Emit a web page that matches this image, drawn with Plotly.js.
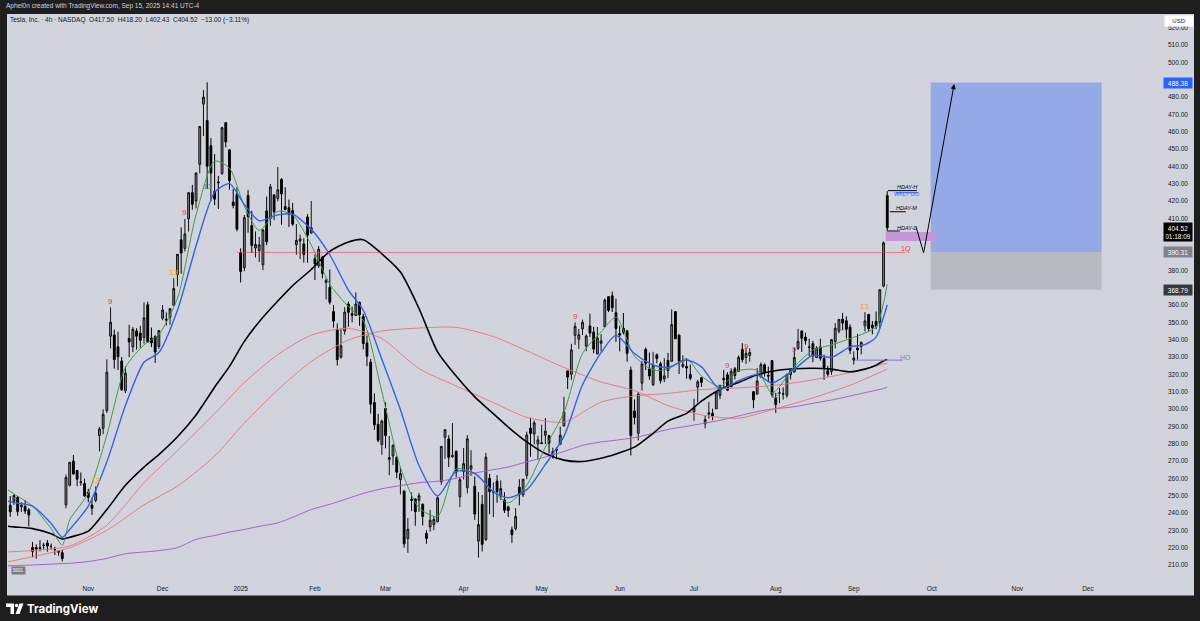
<!DOCTYPE html>
<html><head><meta charset="utf-8">
<script src="https://cdn.plot.ly/plotly-3.0.1.min.js"></script>
<style>html,body{margin:0;padding:0;background:#1e1e1e;}#chart{width:1200px;height:621px;}</style>
</head><body><div id="chart"></div>
<script>
// ---------------- DATA ----------------
const dates = ['2024-10-02','2024-10-03','2024-10-04','2024-10-07','2024-10-08','2024-10-09','2024-10-10','2024-10-11','2024-10-14','2024-10-15','2024-10-16','2024-10-17','2024-10-18','2024-10-21','2024-10-22','2024-10-23','2024-10-24','2024-10-25','2024-10-28','2024-10-29','2024-10-30','2024-10-31',
'2024-11-01','2024-11-04','2024-11-05','2024-11-06','2024-11-07','2024-11-08','2024-11-11','2024-11-12','2024-11-13','2024-11-14','2024-11-15','2024-11-18','2024-11-19','2024-11-20','2024-11-21','2024-11-22','2024-11-25','2024-11-26','2024-11-27','2024-11-29',
'2024-12-02','2024-12-03','2024-12-04','2024-12-05','2024-12-06','2024-12-09','2024-12-10','2024-12-11','2024-12-12','2024-12-13','2024-12-16','2024-12-17','2024-12-18','2024-12-19','2024-12-20','2024-12-23','2024-12-24','2024-12-26','2024-12-27','2024-12-30','2024-12-31',
'2025-01-02','2025-01-03','2025-01-06','2025-01-07','2025-01-08','2025-01-10','2025-01-13','2025-01-14','2025-01-15','2025-01-16','2025-01-17','2025-01-21','2025-01-22','2025-01-23','2025-01-24','2025-01-27','2025-01-28','2025-01-29','2025-01-30','2025-01-31',
'2025-02-03','2025-02-04','2025-02-05','2025-02-06','2025-02-07','2025-02-10','2025-02-11','2025-02-12','2025-02-13','2025-02-14','2025-02-18','2025-02-19','2025-02-20','2025-02-21','2025-02-24','2025-02-25','2025-02-26','2025-02-27','2025-02-28',
'2025-03-03','2025-03-04','2025-03-05','2025-03-06','2025-03-07','2025-03-10','2025-03-11','2025-03-12','2025-03-13','2025-03-14','2025-03-17','2025-03-18','2025-03-19','2025-03-20','2025-03-21','2025-03-24','2025-03-25','2025-03-26','2025-03-27','2025-03-28','2025-03-31',
'2025-04-01','2025-04-02','2025-04-03','2025-04-04','2025-04-07','2025-04-08','2025-04-09','2025-04-10','2025-04-11','2025-04-14','2025-04-15','2025-04-16','2025-04-17','2025-04-21','2025-04-22','2025-04-23','2025-04-24','2025-04-25','2025-04-28','2025-04-29','2025-04-30',
'2025-05-01','2025-05-02','2025-05-05','2025-05-06','2025-05-07','2025-05-08','2025-05-09','2025-05-12','2025-05-13','2025-05-14','2025-05-15','2025-05-16','2025-05-19','2025-05-20','2025-05-21','2025-05-22','2025-05-23','2025-05-27','2025-05-28','2025-05-29','2025-05-30',
'2025-06-02','2025-06-03','2025-06-04','2025-06-05','2025-06-06','2025-06-09','2025-06-10','2025-06-11','2025-06-12','2025-06-13','2025-06-16','2025-06-17','2025-06-18','2025-06-20','2025-06-23','2025-06-24','2025-06-25','2025-06-26','2025-06-27','2025-06-30',
'2025-07-01','2025-07-02','2025-07-03','2025-07-07','2025-07-08','2025-07-09','2025-07-10','2025-07-11','2025-07-14','2025-07-15','2025-07-16','2025-07-17','2025-07-18','2025-07-21','2025-07-22','2025-07-23','2025-07-24','2025-07-25','2025-07-28','2025-07-29','2025-07-30','2025-07-31',
'2025-08-01','2025-08-04','2025-08-05','2025-08-06','2025-08-07','2025-08-08','2025-08-11','2025-08-12','2025-08-13','2025-08-14','2025-08-15','2025-08-18','2025-08-19','2025-08-20','2025-08-21','2025-08-22','2025-08-25','2025-08-26','2025-08-27','2025-08-28','2025-08-29',
'2025-09-02','2025-09-03','2025-09-04','2025-09-05','2025-09-08','2025-09-09','2025-09-10','2025-09-11','2025-09-12','2025-09-15'];

const opens = [247.6,244.5,246.7,249.0,243.6,243.8,241.8,220.1,220.1,220.0,221.4,222.7,220.7,218.9,217.3,217.1,244.7,256.0,270.0,264.5,258.0,257.0,
252.0,244.6,247.3,284.7,288.9,299.1,342.0,342.7,335.9,327.7,310.6,340.7,335.8,345.0,343.8,341.1,360.1,341.0,341.8,336.1,
352.4,351.8,353.0,359.9,377.4,397.6,392.7,409.7,424.8,420.0,441.1,475.9,466.5,451.9,425.5,431.0,435.9,465.2,449.5,419.4,423.8,
390.1,381.5,423.2,405.8,392.9,391.4,383.2,414.3,409.9,423.5,421.5,432.6,416.8,416.1,414.5,394.8,396.9,395.2,410.8,401.5,
386.7,382.6,387.5,373.0,370.2,356.2,345.8,329.9,345.0,360.6,355.0,354.0,361.5,353.4,338.1,327.0,303.7,291.2,279.5,
300.3,270.9,272.9,272.1,259.3,252.5,225.3,247.2,248.1,247.3,245.1,228.2,232.0,233.3,235.0,258.1,283.6,282.7,272.5,275.6,249.3,
263.8,254.6,265.3,255.4,223.8,245.0,224.7,260.0,251.8,258.4,249.9,247.6,243.5,230.3,231.0,254.9,250.5,261.7,289.0,285.5,279.9,
280.0,284.9,284.6,273.1,276.9,279.6,290.2,322.0,320.0,342.5,340.3,346.2,336.3,347.9,344.4,331.9,337.9,347.4,364.8,365.3,355.5,
343.5,346.6,345.1,322.5,298.8,286.0,314.9,334.4,323.1,314.0,331.3,326.1,317.3,328.0,327.5,356.2,342.7,324.6,324.5,319.9,
298.5,312.6,318.0,291.4,297.0,297.5,300.1,307.9,317.7,319.7,312.8,323.2,321.7,334.4,329.7,330.9,310.0,308.7,318.5,325.5,319.4,327.9,
306.2,309.1,308.8,307.9,319.8,321.4,335.0,345.0,341.5,335.8,337.7,329.6,335.8,329.2,322.1,321.7,338.9,344.9,351.9,350.9,347.2,
328.2,335.2,336.1,348.0,354.6,348.4,350.6,350.2,370.9,423.1];

const highs = [251.2,249.8,250.9,249.8,246.2,247.4,242.8,223.3,221.9,224.3,222.8,224.4,222.3,220.5,218.2,218.7,262.1,269.5,273.5,264.9,263.4,259.8,
254.0,248.9,255.3,289.6,299.8,328.7,358.6,345.8,344.6,330.0,324.7,348.6,347.4,346.6,348.0,361.5,361.9,347.0,342.6,345.6,
360.0,355.7,358.1,375.4,389.5,404.8,409.7,424.9,429.3,436.3,463.2,484.0,488.5,456.4,447.1,434.5,462.8,465.3,450.0,427.0,427.9,
392.7,411.9,426.4,414.3,402.5,399.3,403.8,422.6,429.8,424.0,439.7,433.2,428.0,420.8,418.9,406.7,400.6,398.6,412.5,420.0,
389.2,394.0,388.4,375.4,380.5,360.0,349.4,346.4,358.7,362.0,359.1,367.3,362.0,355.0,342.4,328.9,309.0,297.2,293.9,
303.9,284.4,279.6,272.7,266.3,253.4,237.1,251.8,248.3,251.6,245.4,230.1,241.7,238.0,249.5,278.6,288.2,284.9,291.9,276.1,260.6,
277.5,285.0,276.3,261.0,252.0,250.4,274.7,262.5,257.7,261.8,258.8,252.0,244.3,232.2,242.8,259.5,259.5,286.9,294.9,293.3,284.5,
290.9,294.8,284.9,277.7,277.9,289.8,307.0,322.2,337.6,350.0,346.1,351.6,343.0,355.0,347.4,347.3,343.2,363.8,365.0,367.7,363.7,
348.0,355.4,345.6,324.5,305.5,309.8,327.8,335.5,332.6,333.0,332.0,327.3,329.3,332.4,357.5,356.3,343.0,331.0,329.3,325.6,
305.9,316.8,318.5,296.1,304.1,300.2,310.5,314.1,322.6,321.2,323.5,324.3,330.9,338.0,335.4,335.0,310.2,323.6,326.9,326.3,324.5,328.3,
309.3,312.1,312.5,320.5,322.3,335.2,346.2,345.3,344.0,340.5,339.3,336.3,340.5,331.4,324.9,340.3,349.5,351.9,355.4,353.5,348.8,
333.3,343.3,338.9,355.9,354.6,350.8,356.3,369.0,396.7,425.7];

const lows = [241.5,237.8,244.6,238.4,240.6,239.5,232.3,214.4,213.7,217.9,218.9,217.7,219.0,215.7,215.3,212.1,242.7,255.3,262.2,255.5,255.8,249.3,
246.2,238.9,246.2,275.6,285.5,297.7,335.0,323.3,322.5,310.4,309.2,330.0,332.8,334.3,335.3,337.7,338.2,335.7,326.6,334.7,
351.2,348.2,348.6,359.5,370.8,378.0,390.9,402.4,415.0,415.7,436.0,457.5,427.0,420.0,417.6,415.4,435.1,451.0,426.5,415.8,402.5,
373.0,379.5,401.7,390.0,387.4,384.8,380.1,394.5,405.7,409.1,419.8,406.3,414.6,405.0,405.7,389.0,386.5,384.5,384.4,401.3,
374.4,381.4,375.4,363.2,360.3,347.0,325.1,329.1,342.9,347.5,350.0,353.7,348.0,334.4,324.7,297.3,288.0,280.9,273.6,
277.3,261.8,267.7,260.0,250.7,220.0,217.0,241.1,232.6,240.7,232.8,222.3,229.2,230.1,234.6,256.3,271.3,266.5,271.8,260.6,243.4,
259.3,251.3,261.5,236.0,214.3,217.8,223.9,239.3,237.6,245.9,247.5,240.0,237.7,222.8,229.9,244.4,249.2,259.6,272.4,279.5,270.8,
279.8,279.8,274.4,271.4,271.0,279.4,290.0,311.5,316.8,337.0,334.7,342.7,333.4,341.6,332.2,331.4,333.2,347.3,355.9,356.0,338.7,
333.3,343.0,327.3,273.2,291.1,281.9,310.7,322.5,316.9,313.3,326.4,314.7,315.5,317.8,327.5,340.4,320.2,323.6,317.5,316.6,
293.2,303.8,312.8,288.8,294.4,293.5,300.0,305.7,312.7,310.5,312.6,317.1,321.4,326.9,326.0,327.3,300.4,308.0,318.0,318.7,315.3,306.8,
297.8,303.4,305.5,306.5,317.0,321.0,334.1,332.9,337.1,330.4,327.0,329.6,327.9,316.8,318.7,319.7,335.0,343.7,345.4,340.7,331.7,
325.6,328.5,331.5,344.7,344.7,343.1,346.1,346.6,370.2,402.4];

const closes = [249.0,240.7,250.1,240.8,244.5,241.1,238.8,217.8,219.2,219.6,221.3,220.9,220.7,218.9,218.0,213.7,260.5,269.2,262.5,259.5,257.6,249.9,
248.9,242.8,251.4,288.5,296.9,321.2,350.0,328.5,330.2,311.2,320.7,338.7,346.0,342.0,339.6,352.6,338.6,338.2,332.9,345.2,
357.1,351.4,357.9,369.5,389.2,390.0,401.0,424.8,418.1,436.2,463.0,479.9,440.1,436.2,421.1,430.6,462.3,454.1,431.7,417.4,403.8,
379.3,410.4,411.1,394.4,394.9,394.7,403.3,396.4,428.2,413.8,426.5,424.1,415.1,412.4,406.6,397.2,398.1,389.1,400.3,404.6,
383.7,392.2,378.2,374.3,361.6,350.7,328.5,336.5,355.9,355.8,354.1,360.6,354.4,337.8,330.5,302.8,290.8,282.0,293.0,
284.7,272.0,279.1,263.5,262.7,222.2,230.6,248.1,240.7,250.0,238.0,225.3,235.9,236.3,248.7,278.4,288.1,272.1,273.1,263.6,259.2,
268.5,282.8,267.3,239.4,233.3,221.9,272.2,252.4,252.3,252.4,254.1,241.6,241.4,227.5,238.0,250.7,259.5,285.0,285.9,292.0,282.2,
280.5,287.2,280.3,275.4,276.2,284.8,298.3,318.4,334.1,347.7,342.8,350.0,342.1,343.8,334.6,341.0,339.3,362.9,356.9,358.4,346.5,
342.7,344.3,332.1,284.7,295.1,308.6,326.1,326.4,319.1,325.3,329.1,316.4,319.1,322.2,348.7,340.5,327.6,325.8,323.6,317.7,
300.7,315.7,315.4,293.9,297.8,295.9,309.9,313.5,316.9,310.8,321.7,319.4,329.7,328.5,332.1,332.6,305.3,316.1,325.6,321.2,319.0,308.3,
302.6,309.3,308.7,319.9,322.3,329.7,339.0,340.8,339.4,335.6,330.6,335.2,329.3,323.9,320.1,340.0,346.6,351.7,349.6,346.0,333.9,
329.4,334.1,338.5,350.8,346.4,347.0,347.8,368.8,395.9,404.52];

// moving averages (weekly samples)
const maDates = ['2024-10-02','2024-10-04','2024-10-11','2024-10-18','2024-10-23','2024-10-25','2024-11-01','2024-11-08','2024-11-15','2024-11-22','2024-11-29','2024-12-06','2024-12-13','2024-12-20','2024-12-27','2025-01-03','2025-01-10','2025-01-17','2025-01-24','2025-01-31','2025-02-07','2025-02-14','2025-02-21','2025-02-28','2025-03-07','2025-03-14','2025-03-21','2025-03-28','2025-04-04','2025-04-11','2025-04-17','2025-04-25','2025-05-02','2025-05-09','2025-05-16','2025-05-23','2025-05-30','2025-06-06','2025-06-13','2025-06-20','2025-06-27','2025-07-03','2025-07-11','2025-07-18','2025-07-25','2025-07-31','2025-08-08','2025-08-15','2025-08-22','2025-08-29','2025-09-05','2025-09-10','2025-09-12','2025-09-15'];
const maBlack = [232.5,232,231,228,225,226,229.5,242,256,266.5,273.7,284,296.6,312.6,324.6,339,350.4,362.3,371.2,380.5,391,396.4,397.7,389.5,379,358,333,319,307,297.3,289.6,281,274.3,270.5,269.7,271.6,274.1,278,286,293,297.5,304.5,311.3,315.3,319.7,321.8,323.2,323.5,323,321.5,323,325.3,327.7,328.5];
const maBlue = [247,246,244,234,226,230.5,244,269.5,302,327,332.6,357,394,425,430,418,408.6,412,412.4,403.7,389,368.6,357,328.7,299.6,267.4,249.8,264,263,252.2,248.8,253.5,268,284.2,314,332.5,342.5,332,325.4,324,328.3,324.3,311.4,316.4,319.8,315,323,331,329.8,335.8,337.2,341.5,353,360];
const maGreen = [254,251,244,231,221.5,236,251.5,285,324,337,343,364,412,443,439,417,403,414,412,394.6,372,359,351,310,266.3,243,238,265.5,262.4,252.6,245.8,256,278,298,332,344.5,353,330.5,322.5,323,329,319,313,322,322.4,309.2,324.4,334,337,340.6,343.8,347.3,361,372];
const maPurple = [209.5,209.6,210,210.5,210.8,211,212,213.8,216.5,217.5,218.3,220,224.8,227,229,230.5,232.3,234.3,237.5,242,245,248.5,251.3,254,255.8,257.5,258.3,260,263,265,266.5,269.5,272.3,275.5,279,281,282,283.5,286,288.2,290,291.5,293.5,296,298.5,300,301.3,303.3,305.2,307.5,309.4,310.8,311.8,312.7];
const slowDates = ['2024-10-02','2024-10-25','2024-11-08','2024-11-22','2024-12-06','2024-12-20','2025-01-03','2025-01-17','2025-01-31','2025-02-14','2025-02-28','2025-03-14','2025-03-28','2025-04-11','2025-04-25','2025-05-09','2025-05-23','2025-06-06','2025-06-20','2025-07-03','2025-07-18','2025-08-01','2025-08-15','2025-08-29','2025-09-15'];
const maRed1 = [217.5,221,233,257.5,276,297.3,315.3,331.4,342.6,346.5,340.6,323.3,313.3,303.7,295.2,292.5,304,307.6,309,311.2,312.2,313.7,316.8,321,326.5];
const maRed2 = [211.7,220,230,244.7,255.5,272.8,291.9,311.1,327.4,339.8,345,346.7,347.1,341.8,333.6,324,315.6,310.6,302,296.6,294.7,300.2,306.4,313.7,323];

// TD sequential counts
const tdDates = ['2024-11-05','2024-11-11','2024-12-05','2024-12-10','2024-12-18','2025-05-14','2025-07-15','2025-07-22','2025-08-01','2025-08-08','2025-09-05'];
const tdPrices = [259,362.3,378.6,413.2,428.6,353.6,325,336.3,308,334.6,359.4];
const tdTexts = ['13','9','13','9','13','9','9','9','13','9','13'];
const tdKinds = ['o','r','o','r','t','r','r','r','t','r','o'];

// levels
const lvl1Q = 390.31, lvlStop = 368.79, lvlTarget = 488.38, lastPrice = 404.52;
const hdayH = 426.0, wklyOO = 424.8, hdayM = 413.8, hdayL = 402.7, hoLevel = 328.2;
const fvgTop = 402.1, fvgBottom = 397.0;

const holidays = ['2024-11-28','2024-12-25','2025-01-01','2025-01-09','2025-01-20','2025-02-17','2025-04-18','2025-05-26','2025-06-19','2025-07-04','2025-09-01','2025-11-27','2025-12-25'];
const monthTicks = ['2024-11-01','2024-12-02','2025-01-02','2025-02-03','2025-03-03','2025-04-01','2025-05-01','2025-06-02','2025-07-01','2025-08-01','2025-09-02','2025-10-01','2025-11-03','2025-12-01'];
const monthLabels = ['Nov','Dec','2025','Feb','Mar','Apr','May','Jun','Jul','Aug','Sep','Oct','Nov','Dec'];
const priceTicks = [210,220,230,240,250,260,270,280,290,300,310,320,330,340,350,360,380,410,420,430,440,450,460,470,480,500,510,520];

// ---------------- DRAWING ----------------
const FONT = 'Liberation Sans, Arial, sans-serif';
const P = {l:8, r:1160, t:14, b:578};
const px = x => (x - P.l) / (P.r - P.l);
const py = y => (P.b - y) / (P.b - P.t);
const noon = d => d + ' 12:00';

const traces = [];
const line = (xs, ys, color, width) => ({type:'scatter', mode:'lines', x:xs.map(noon), y:ys, line:{color:color, width:width, shape:'spline', smoothing:0.7}, hoverinfo:'skip'});
traces.push(line(maDates, maPurple, '#a660cc', 1));
traces.push(line(slowDates, maRed2, '#ec6f75', 0.9));
traces.push(line(slowDates, maRed1, '#ec6f75', 0.9));
traces.push(line(maDates, maBlack, '#000000', 1.6));
traces.push({type:'candlestick', x:dates.map(noon), open:opens, high:highs, low:lows, close:closes,
  increasing:{line:{color:'#111111', width:1}, fillcolor:'#7d808a'},
  decreasing:{line:{color:'#000000', width:1}, fillcolor:'#000000'},
  whiskerwidth:0, hoverinfo:'skip'});
traces.push(line(maDates, maGreen, '#3d9c48', 1));
traces.push(line(maDates, maBlue, '#2f62ea', 1.4));
// projected path
traces.push({type:'scatter', mode:'lines', x:['2025-09-25 04:48','2025-09-29 07:12'], y:[405.5, 390], line:{color:'#000', width:1}, hoverinfo:'skip'});

const shapes = [];
shapes.push({type:'rect', xref:'paper', yref:'paper', x0:px(7), x1:px(1194), y0:py(595.5), y1:py(14), fillcolor:'#d1d4dc', line:{width:0}, layer:'below'});
shapes.push({type:'rect', xref:'x', yref:'y', x0:'2025-10-01 04:48', x1:'2025-12-05 04:48', y0:lvl1Q, y1:lvlTarget, fillcolor:'#95a9e7', line:{width:0}, layer:'below'});
shapes.push({type:'rect', xref:'x', yref:'y', x0:'2025-10-01 04:48', x1:'2025-12-05 04:48', y0:lvlStop, y1:lvl1Q, fillcolor:'#b8bac2', line:{width:0}, layer:'below'});
shapes.push({type:'line', xref:'x', yref:'y', x0:'2024-12-31 12:00', x1:'2025-09-22 12:00', y0:lvl1Q, y1:lvl1Q, line:{color:'rgba(242,54,69,0.55)', width:1}});
shapes.push({type:'rect', xref:'x', yref:'y', x0:'2025-09-15 02:24', x1:'2025-10-02 14:24', y0:fvgBottom, y1:fvgTop, fillcolor:'#c696d9', line:{width:0}, layer:'below'});
shapes.push({type:'line', xref:'x', yref:'y', x0:'2025-09-03 00:00', x1:'2025-09-19 16:48', y0:hoLevel, y1:hoLevel, line:{color:'#8a72d0', width:1}});
shapes.push({type:'line', xref:'x', yref:'y', x0:'2025-09-15 16:48', x1:'2025-09-25 12:00', y0:hdayH, y1:hdayH, line:{color:'#000', width:1}});
shapes.push({type:'line', xref:'x', yref:'y', x0:'2025-09-17 19:12', x1:'2025-09-25 19:12', y0:wklyOO, y1:wklyOO, line:{color:'#2962ff', width:1}});
shapes.push({type:'line', xref:'x', yref:'y', x0:'2025-09-16 04:48', x1:'2025-09-22 12:00', y0:hdayM, y1:hdayM, line:{color:'#000', width:1}});
shapes.push({type:'line', xref:'x', yref:'y', x0:'2025-09-15 16:48', x1:'2025-09-18 21:36', y0:hdayL, y1:hdayL, line:{color:'#000', width:1}});
// TradingView logo
shapes.push({type:'path', xref:'paper', yref:'paper', path:`M ${px(6)} ${py(603.5)} L ${px(14)} ${py(603.5)} L ${px(14)} ${py(614)} L ${px(10.5)} ${py(614)} L ${px(10.5)} ${py(607)} L ${px(6)} ${py(607)} Z`, fillcolor:'#ffffff', line:{width:0}});
shapes.push({type:'circle', xref:'paper', yref:'paper', x0:px(14.8), x1:px(18.2), y0:py(607.2), y1:py(603.8), fillcolor:'#ffffff', line:{width:0}});
shapes.push({type:'path', xref:'paper', yref:'paper', path:`M ${px(15.5)} ${py(614)} L ${px(19.5)} ${py(614)} L ${px(23.5)} ${py(603.5)} L ${px(19.5)} ${py(603.5)} Z`, fillcolor:'#ffffff', line:{width:0}});

const ann = [];
const tdColor = {o:'#f5a325', r:'#f23645', t:'#3f9d8c'};
tdDates.forEach((d,i) => ann.push({x:noon(d), y:tdPrices[i], text:tdTexts[i], showarrow:false, font:{family:FONT, size:8, color:tdColor[tdKinds[i]]}}));
ann.push({xref:'paper', yref:'paper', x:px(4), y:py(6.5), xanchor:'left', yanchor:'middle', showarrow:false, text:'Aphel0n created with TradingView.com, Sep 15, 2025 14:41 UTC-4', font:{family:FONT, size:6.5, color:'#d1d4dc'}});
ann.push({xref:'paper', yref:'paper', x:px(8), y:py(20.5), xanchor:'left', yanchor:'middle', showarrow:false, text:'Tesla, Inc. · 4h · NASDAQ  O417.50  H418.20  L402.43  C404.52  −13.00 (−3.11%)', font:{family:FONT, size:6.5, color:'#131722'}});
ann.push({xref:'paper', yref:'paper', x:px(25), y:py(609), xanchor:'left', yanchor:'middle', showarrow:false, text:'<b>TradingView</b>', font:{family:'Inter, Liberation Sans, sans-serif', size:11.5, color:'#ffffff'}});
const small = (x, y, t, c) => ann.push({x:x, y:y, text:t, showarrow:false, font:{family:FONT, size:5.5, color:c}});
small('2025-09-22 19:12', 428.2, '<i>HDAY-H</i>', '#000');
small('2025-09-22 19:12', 423.8, 'WKLY OO', '#2962ff');
small('2025-09-22 19:12', 416.0, '<i>HDAY-M</i>', '#000');
small('2025-09-22 19:12', 404.6, '<i>HDAY-L</i>', '#000');
ann.push({x:'2025-09-22 12:00', y:392.3, text:'1Q', showarrow:false, font:{family:FONT, size:7, color:'#f23645'}});
ann.push({x:'2025-09-22 12:00', y:329.6, text:'HO', showarrow:false, font:{family:FONT, size:7, color:'#8a72d0'}});
ann.push({x:'2025-10-09 12:00', y:487.5, ax:'2025-09-29 07:12', ay:390, axref:'x', ayref:'y', text:'', showarrow:true, arrowhead:2, arrowsize:1, arrowwidth:1, arrowcolor:'#000'});
// price badges
const badge = (y, t, bg, fc) => ann.push({xref:'paper', yref:'y', x:px(1163), y:y, xanchor:'left', yanchor:'middle', text:t, showarrow:false, bgcolor:bg, borderpad:1.5, width:25, font:{family:FONT, size:6.5, color:fc}});
badge(lvlTarget, lvlTarget.toFixed(2), '#2962ff', '#ffffff');
badge(lastPrice - 2.3, lastPrice.toFixed(2) + '<br>01:18:09', '#000000', '#ffffff');
badge(lvl1Q, lvl1Q.toFixed(2), '#80838d', '#ffffff');
badge(lvlStop, lvlStop.toFixed(2), '#363a45', '#ffffff');
ann.push({xref:'paper', yref:'paper', x:px(1164), y:py(21), xanchor:'left', yanchor:'middle', text:'USD', showarrow:false, bgcolor:'#ffffff', borderpad:2, width:24, font:{family:FONT, size:6, color:'#131722'}});
ann.push({xref:'paper', yref:'paper', x:px(10.5), y:py(570), xanchor:'left', yanchor:'middle', text:'5001', showarrow:false, bgcolor:'#787b86', borderpad:1, font:{family:FONT, size:4.5, color:'#ffffff'}});

const layout = {
  width:1200, height:621,
  margin:{l:P.l, r:1200-P.r, t:P.t, b:621-P.b},
  paper_bgcolor:'#1e1e1e', plot_bgcolor:'rgba(0,0,0,0)',
  showlegend:false, hovermode:false, dragmode:false,
  xaxis:{type:'date', range:['2024-10-02 21:36','2025-12-29 21:36'],
    rangebreaks:[{bounds:['sat','mon']},{values:holidays}],
    tickvals:monthTicks.map(noon), ticktext:monthLabels, ticks:'', showgrid:false, zeroline:false, showline:false,
    tickfont:{family:FONT, size:6.5, color:'#131722'}, ticklabelstandoff:5, rangeslider:{visible:false}, fixedrange:true},
  yaxis:{side:'right', range:[202.5, 527.9], tickvals:priceTicks, tickformat:'.2f', ticks:'', showgrid:false, zeroline:false, showline:false,
    tickfont:{family:FONT, size:6.5, color:'#131722'}, ticklabelstandoff:7, fixedrange:true},
  shapes:shapes, annotations:ann
};
Plotly.newPlot('chart', traces, layout, {displayModeBar:false, staticPlot:true});
</script></body></html>
